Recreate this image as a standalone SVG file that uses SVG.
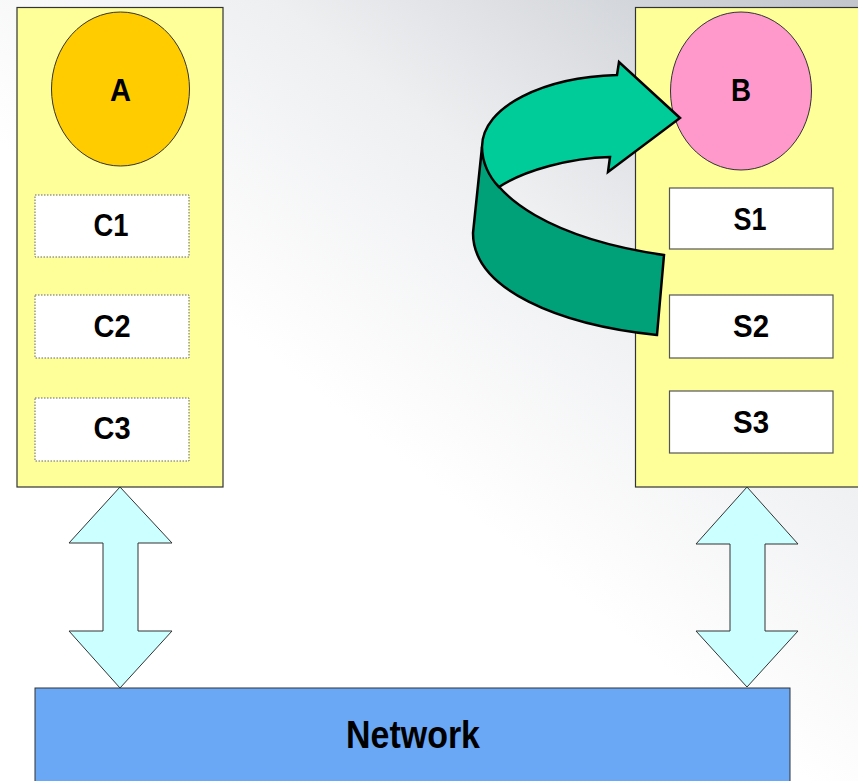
<svg xmlns="http://www.w3.org/2000/svg" width="858" height="781" viewBox="0 0 858 781">
<defs>
<linearGradient id="bg" x1="1" y1="0" x2="0.35" y2="0.75">
<stop offset="0" stop-color="#C2C6CC"/>
<stop offset="0.45" stop-color="#EEEFF1"/>
<stop offset="0.8" stop-color="#FFFFFF"/>
<stop offset="1" stop-color="#FFFFFF"/>
</linearGradient>
<style>
.panel{fill:#FFFF99;stroke:#333;stroke-width:1.2}
.cbox{fill:#fff;stroke:#666;stroke-width:1;stroke-dasharray:1.5 1.5}
.sbox{fill:#fff;stroke:#555;stroke-width:1.2}
.lbl{font-family:"Liberation Sans",Arial,sans-serif;font-weight:bold;font-size:31px;fill:#000;text-anchor:middle}
.dbl{fill:#CCFFFF;stroke:#333;stroke-width:1}
.curve{stroke:#000;stroke-width:2.5;stroke-linejoin:miter}
</style>
</defs>
<rect width="858" height="781" fill="url(#bg)"/>

<g id="panelA">
<rect class="panel" x="17" y="7.5" width="206" height="479.5"/>
</g>
<g id="A">
<ellipse cx="120.5" cy="89" rx="69" ry="77" fill="#FFCC00" stroke="#333" stroke-width="1"/>
<text class="lbl" x="120.5" y="101" textLength="21" lengthAdjust="spacingAndGlyphs">A</text>
</g>
<g id="C1">
<rect class="cbox" x="35" y="195" width="154" height="62"/>
<text class="lbl" x="111" y="236" textLength="35" lengthAdjust="spacingAndGlyphs">C1</text>
</g>
<g id="C2">
<rect class="cbox" x="35" y="295" width="154" height="63"/>
<text class="lbl" x="112" y="337" textLength="37" lengthAdjust="spacingAndGlyphs">C2</text>
</g>
<g id="C3">
<rect class="cbox" x="35" y="398" width="154" height="63"/>
<text class="lbl" x="112" y="439" textLength="37" lengthAdjust="spacingAndGlyphs">C3</text>
</g>

<g id="panelB">
<rect class="panel" x="635.5" y="7.5" width="240" height="479.5"/>
</g>
<g id="B">
<ellipse cx="741" cy="91" rx="70.5" ry="79" fill="#FF99CC" stroke="#333" stroke-width="1"/>
<text class="lbl" x="741" y="101" textLength="20" lengthAdjust="spacingAndGlyphs">B</text>
</g>
<g id="S1">
<rect class="sbox" x="669.5" y="188" width="163.5" height="61"/>
<text class="lbl" x="750" y="230" textLength="33" lengthAdjust="spacingAndGlyphs">S1</text>
</g>
<g id="S2">
<rect class="sbox" x="669.5" y="295" width="163.5" height="63"/>
<text class="lbl" x="751" y="337" textLength="36" lengthAdjust="spacingAndGlyphs">S2</text>
</g>
<g id="S3">
<rect class="sbox" x="669.5" y="391" width="163.5" height="62"/>
<text class="lbl" x="751" y="433" textLength="36" lengthAdjust="spacingAndGlyphs">S3</text>
</g>

<g id="network">
<rect x="35" y="688" width="755" height="100" fill="#6AA8F6" stroke="#333" stroke-width="1"/>
<text class="lbl" x="413" y="748" style="font-size:38px" textLength="134" lengthAdjust="spacingAndGlyphs">Network</text>
</g>

<g id="connectors">
<path class="dbl" d="M120,487 L172,543 L138,543 L138,631 L172,631 L120,688 L69,631 L103,631 L103,543 L69,543 Z"/>
<path class="dbl" d="M747,487 L798,544 L765,544 L765,631 L798,631 L747,687 L696,631 L730,631 L730,544 L696,544 Z"/>
<path class="curve" fill="#00A078" d="M482,147 C485,200 560,240 664,255 L657,335 C560,325 473,290 473,233 Z"/>
<path class="curve" fill="#00CC99" d="M482,147 C482,106 545,77 617,75 L619,62 L680,118 L608,172 L610,157 C570,158 525,170 499,187 C489,177 482,162 482,147 Z"/>
</g>
</svg>
